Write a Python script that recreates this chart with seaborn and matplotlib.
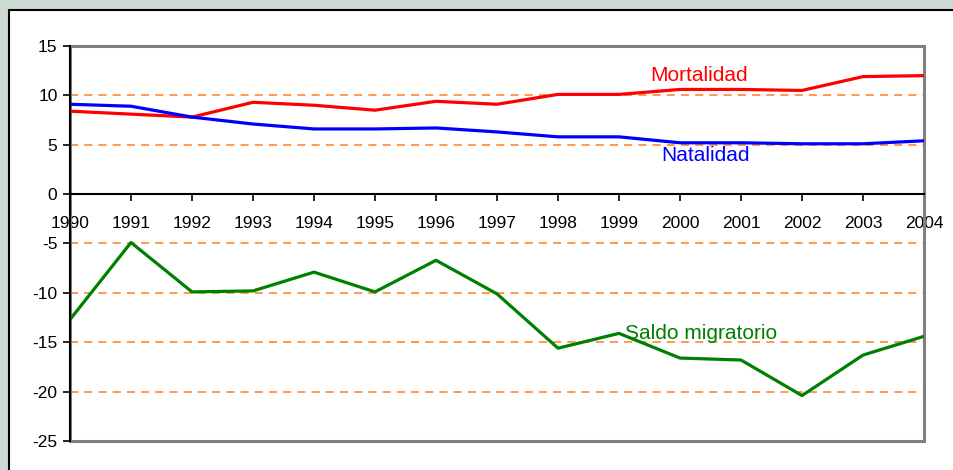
import pandas as pd
import seaborn as sns
import matplotlib.pyplot as plt
from matplotlib.patches import Rectangle
from matplotlib.lines import Line2D

years = list(range(1990, 2005))
mortalidad = [8.4, 8.1, 7.8, 9.3, 9.0, 8.5, 9.4, 9.1, 10.1, 10.1, 10.6, 10.6, 10.5, 11.9, 12.0]
natalidad = [9.1, 8.9, 7.8, 7.1, 6.6, 6.6, 6.7, 6.3, 5.8, 5.8, 5.2, 5.2, 5.1, 5.1, 5.4]
saldo = [-12.7, -4.9, -9.9, -9.8, -7.9, -9.9, -6.7, -10.1, -15.6, -14.1, -16.6, -16.8, -20.4, -16.3, -14.4]
y_ticks = [15, 10, 5, 0, -5, -10, -15, -20, -25]
grid_vals = [10, 5, -5, -10, -15, -20]

df = pd.DataFrame({"year": years, "Mortalidad": mortalidad,
                   "Natalidad": natalidad, "Saldo migratorio": saldo})

sns.set_theme(style="white")
plt.rcParams["font.family"] = ["Liberation Sans", "DejaVu Sans"]

fig = plt.figure(figsize=(9.54, 4.70), dpi=100)
fig.patch.set_facecolor("#cddad2")
# white chart panel, black frame only on top and left (it runs off the other edges)
x0, y1 = 9 / 954, 1 - 10 / 470
fig.patches.append(Rectangle((x0, 0), 1 - x0, y1, transform=fig.transFigure,
                             facecolor="white", edgecolor="none", zorder=-10))
fig.lines.append(Line2D([x0, 1], [y1, y1], transform=fig.transFigure, color="black", lw=1.5))
fig.lines.append(Line2D([x0, x0], [0, y1], transform=fig.transFigure, color="black", lw=1.5))

ax = fig.add_axes([70 / 954, 1 - 441 / 470, (924 - 70) / 954, (441 - 46) / 470])
ax.set_facecolor("none")
ax.set_zorder(5)

# x axis drawn through zero (set before ticks, it resets them)
for s in ["top", "right"]:
    ax.spines[s].set_visible(False)
ax.spines["bottom"].set_position(("data", 0))
ax.spines["bottom"].set_color("black")
ax.spines["bottom"].set_linewidth(1.5)
ax.spines["left"].set_color("black")
ax.spines["left"].set_linewidth(1.5)
ax.spines["left"].set_zorder(4)

for gv in grid_vals:
    ax.axhline(gv, color="#ff7f1f", linestyle=(0, (5.3, 4)), linewidth=1.1, zorder=1)

sns.lineplot(data=df, x="year", y="Mortalidad", color="#ff0000", linewidth=2.3, ax=ax, zorder=3)
sns.lineplot(data=df, x="year", y="Natalidad", color="#0000ff", linewidth=2.3, ax=ax, zorder=3)
sns.lineplot(data=df, x="year", y="Saldo migratorio", color="#008000", linewidth=2.3, ax=ax, zorder=3)

ax.set_xlim(1990, 2004)
ax.set_ylim(-25, 15)
ax.set_xticks(years)
ax.set_xticklabels([str(y) for y in years])
ax.set_yticks(y_ticks)
ax.set_yticklabels([str(t) for t in y_ticks])
ax.set_xlabel("")
ax.set_ylabel("")
ax.tick_params(axis="both", direction="out", length=5, width=1.2, color="black",
               bottom=True, left=True, pad=4, labelcolor="black", labelsize=12.5)
ax.tick_params(axis="x", pad=11)

# grey plot-area frame
ax.add_patch(Rectangle((0, 0), 1, 1, transform=ax.transAxes, fill=False,
                       edgecolor="#808080", linewidth=2.2, zorder=2, clip_on=False))

ax.text(1999.52, 12.05, "Mortalidad", color="#ff0000", fontsize=15, va="center", ha="left")
ax.text(1999.70, 3.88, "Natalidad", color="#0000ff", fontsize=15, va="center", ha="left")
ax.text(1999.10, -14.1, "Saldo migratorio", color="#008000", fontsize=15, va="center", ha="left")

fig.savefig("out.png", dpi=100, facecolor=fig.get_facecolor())
